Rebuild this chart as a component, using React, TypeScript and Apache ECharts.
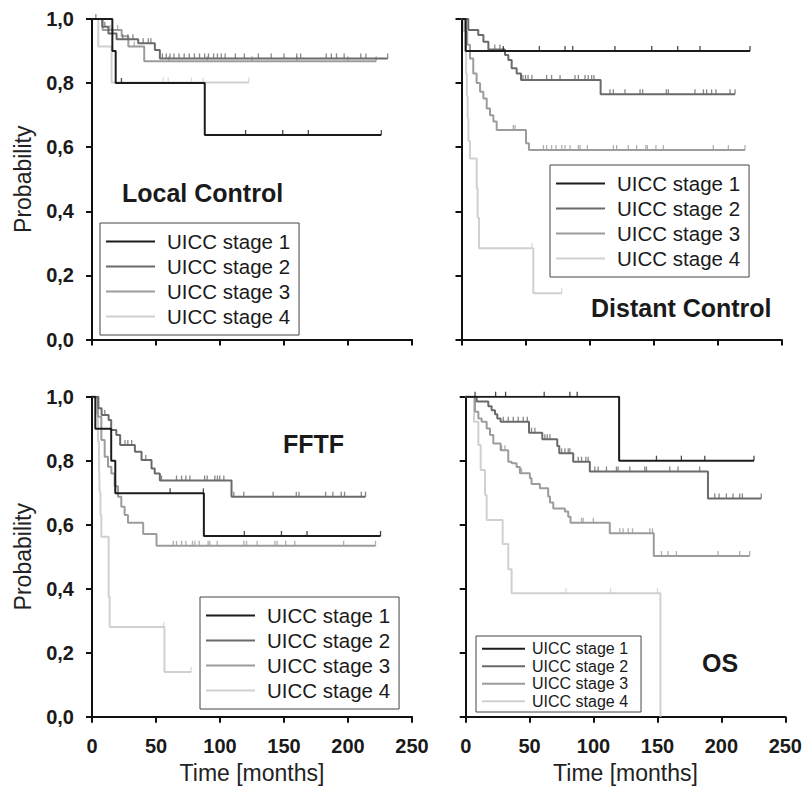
import React, { useEffect, useRef } from "react";
import * as echarts from "echarts";

// ---- categories ----
const STAGES = ["UICC stage 1", "UICC stage 2", "UICC stage 3", "UICC stage 4"];
const PANEL_TITLES = ["Local Control", "Distant Control", "FFTF", "OS"];
const X_TICKS = [0, 50, 100, 150, 200, 250];
const Y_TICKS = [0, 0.2, 0.4, 0.6, 0.8, 1.0];

// ---- Local Control ----
const lc1T = [0, 15.9, 18.5, 88.1, 226];
const lc1S = [1, 0.9, 0.8, 0.638, 0.638];
const lc1C = [23, 120, 149, 169, 226];
const lc2T = [0, 8, 12.8, 19.2, 36.1, 49.1, 53, 231];
const lc2S = [1, 0.976, 0.955, 0.937, 0.924, 0.903, 0.877, 0.877];
const lc2C = [3, 10, 16, 24, 28, 32, 40, 44, 46, 55, 58, 61, 64, 68, 72, 76, 80, 84, 88, 91, 95, 98, 101, 104, 112, 119, 130, 140, 150, 160, 163, 183, 187, 191, 197, 210, 214, 231];
const lc3T = [0, 8.3, 23.2, 28.4, 40.8, 222];
const lc3S = [1, 0.966, 0.946, 0.914, 0.868, 0.868];
const lc3C = [14, 20, 33, 60, 90, 125, 160, 200, 222];
const lc4T = [0, 4.9, 15.3, 122.5];
const lc4S = [1, 0.914, 0.802, 0.802];
const lc4C = [55.6, 59.5, 77.7, 86.8, 122.5];

// ---- Distant Control ----
const dc1T = [0, 3.3, 225.4];
const dc1S = [1, 0.9, 0.9];
const dc1C = [32.7, 60.8, 80.9, 86.9, 119.9, 148.6, 168.9, 186.3, 225.4];
const dc2T = [0, 5.3, 13.1, 17.1, 21, 34, 36.6, 39.2, 43.1, 46.5, 108.7, 213.7];
const dc2S = [1, 0.966, 0.95, 0.929, 0.905, 0.888, 0.872, 0.846, 0.83, 0.81, 0.765, 0.765];
const dc2C = [26, 30, 48, 50, 52, 55, 66.5, 70.4, 77, 88.7, 91.3, 96.5, 99, 101.7, 103.5, 116, 118.6, 127.7, 139.5, 141.5, 160, 161.6, 182.4, 189, 191.5, 195.4, 198.8, 209.8, 213.7];
const dc3T = [0, 3, 4.5, 6.6, 9.2, 11.8, 14.5, 17.1, 19.7, 22.3, 24.9, 27.5, 50.4, 52.7, 221.5];
const dc3S = [1, 0.96, 0.92, 0.877, 0.83, 0.8, 0.773, 0.752, 0.721, 0.7, 0.68, 0.654, 0.612, 0.591, 0.591];
const dc3C = [40.5, 41.8, 64, 66.5, 70.4, 73.8, 78.3, 80.9, 84.8, 91.3, 92.6, 98.3, 118.6, 121.2, 130.3, 136.8, 144, 145.2, 151.9, 157.7, 196.7, 208.5, 221.5];
const dc4T = [0, 2, 3, 3.6, 4.2, 4.8, 5.4, 6.6, 11.9, 12.6, 13.7, 56.1, 78.3];
const dc4S = [1, 0.96, 0.9, 0.83, 0.76, 0.69, 0.62, 0.565, 0.472, 0.38, 0.285, 0.144, 0.144];
const dc4C = [55, 78.3];

// ---- FFTF ----
const ff1T = [0, 2.6, 15, 18.2, 87.4, 225.4];
const ff1S = [1, 0.9, 0.8, 0.698, 0.565, 0.565];
const ff1C = [61, 87, 119, 148, 168, 225.4];
const ff2T = [0, 5, 7.5, 13, 15, 19, 22, 33.5, 38.7, 46.5, 49, 53, 109, 213.7];
const ff2S = [1, 0.964, 0.943, 0.927, 0.896, 0.88, 0.849, 0.828, 0.802, 0.776, 0.76, 0.738, 0.6875, 0.6875];
const ff2C = [10, 25.8, 28, 31, 42, 54.3, 66, 70, 73.3, 76.5, 88, 90, 96, 98, 99.8, 103, 110.8, 118.6, 141.5, 159.6, 161.7, 182.5, 188.2, 194.7, 197.3, 210.4, 213.7];
const ff3T = [0, 4.7, 7.3, 9.9, 12.5, 15.1, 17.7, 20.3, 22.9, 25.5, 28.1, 40, 50.4, 221.5];
const ff3S = [1, 0.9375, 0.865, 0.8125, 0.781, 0.76, 0.72, 0.6875, 0.656, 0.63, 0.606, 0.571, 0.534, 0.534];
const ff3C = [63.5, 66, 70, 73.3, 78.5, 80.4, 83.7, 90.7, 92, 97.8, 118.6, 120.7, 129, 142.8, 144.6, 151.3, 158.4, 196.6, 221.5];
const ff4T = [0, 3, 4.7, 5.5, 6, 6.6, 7.3, 13, 13.8, 56.6, 77.5];
const ff4S = [1, 0.95, 0.86, 0.78, 0.7, 0.63, 0.5625, 0.375, 0.28, 0.14, 0.14];
const ff4C = [56, 77.5];

// ---- OS ----
const os1T = [0, 120, 225.5];
const os1S = [1, 0.8, 0.8];
const os1C = [7.3, 23.4, 31.2, 61.4, 81.5, 87.2, 149.2, 168.7, 187, 225.5];
const os2T = [0, 8.6, 17.7, 20.3, 22.9, 24.7, 27.3, 49.5, 59.9, 71.6, 73.2, 84.1, 97.1, 189.5, 231.2];
const os2S = [1, 0.985, 0.97, 0.958, 0.945, 0.932, 0.922, 0.8875, 0.867, 0.846, 0.823, 0.797, 0.766, 0.682, 0.682];
const os2C = [29.4, 33.3, 37.2, 41.1, 45, 48.2, 51.5, 54.1, 61.9, 63.8, 65.9, 75, 77.6, 80.2, 81.5, 88, 90.6, 94, 95.8, 101, 103.6, 110.1, 117.9, 119.2, 128.4, 140.1, 141.4, 159.6, 166.1, 183, 194.8, 198.2, 203.9, 209.1, 214.3, 216.4, 231.2];
const os3T = [0, 7.3, 9.9, 12.5, 16.4, 19, 21.6, 27.3, 33.3, 35.9, 39.8, 42.4, 50.2, 51.5, 58, 64.5, 65.9, 68.5, 77.6, 80.2, 82, 112.7, 147.1, 222.1];
const os3S = [1, 0.953, 0.932, 0.922, 0.901, 0.88, 0.854, 0.833, 0.797, 0.792, 0.78, 0.761, 0.745, 0.727, 0.714, 0.688, 0.669, 0.651, 0.641, 0.625, 0.606, 0.573, 0.502, 0.502];
const os3C = [28.1, 30.7, 43.7, 90.6, 91.9, 99.8, 120.5, 123.1, 127.1, 130.5, 144, 146.1, 153.1, 158.3, 164.8, 197.4, 214.3, 222.1];
const os4T = [0, 6.5, 9.9, 11.7, 15.1, 16.4, 28.9, 33.3, 35.9, 152.3];
const os4S = [1, 0.922, 0.849, 0.771, 0.693, 0.615, 0.54, 0.461, 0.386, 0];
const os4C = [78.4, 113.3, 150];

const PANELS = [
  [[lc1T, lc1S, lc1C], [lc2T, lc2S, lc2C], [lc3T, lc3S, lc3C], [lc4T, lc4S, lc4C]],
  [[dc1T, dc1S, dc1C], [dc2T, dc2S, dc2C], [dc3T, dc3S, dc3C], [dc4T, dc4S, dc4C]],
  [[ff1T, ff1S, ff1C], [ff2T, ff2S, ff2C], [ff3T, ff3S, ff3C], [ff4T, ff4S, ff4C]],
  [[os1T, os1S, os1C], [os2T, os2S, os2C], [os3T, os3S, os3C], [os4T, os4S, os4C]],
];

// ---- styles / layout ----
const COLORS = ["#1c1c1c", "#6a6a6a", "#9c9c9c", "#d0d0d0"];
const FONT = "'Liberation Sans', Arial, Helvetica, sans-serif";
const GRIDS = [
  { left: 92, top: 19, width: 320, height: 320.5 },
  { left: 461.5, top: 19, width: 320, height: 320.5 },
  { left: 92, top: 396.7, width: 320, height: 320 },
  { left: 465.7, top: 396.7, width: 320, height: 320 },
];
const TITLE_POS = [
  [122, 193],
  [591, 308],
  [283, 444],
  [702, 663],
];

function stepValue(T: number[], S: number[], t: number) {
  let v = S[0];
  for (let i = 0; i < T.length; i++) if (T[i] <= t) v = S[i];
  return v;
}

export default function App() {
  const ref = useRef<HTMLDivElement>(null);
  useEffect(() => {
    if (!ref.current) return;
    const chart = echarts.init(ref.current, undefined, { renderer: "svg" });
    const axisLine = { show: true, onZero: false, lineStyle: { color: "#111", width: 2 } };
    const axisTick = { show: true, inside: false, length: 6, lineStyle: { color: "#111", width: 2 } };

    const xAxis = GRIDS.map((_, i) => ({
      type: "value",
      gridIndex: i,
      min: X_TICKS[0],
      max: X_TICKS[X_TICKS.length - 1],
      interval: X_TICKS[1] - X_TICKS[0],
      axisLine,
      axisTick,
      splitLine: { show: false },
      axisLabel: {
        show: i >= 2,
        fontFamily: FONT,
        fontWeight: "bold",
        fontSize: 20,
        color: "#1a1a1a",
        margin: 19,
      },
      name: i >= 2 ? "Time [months]" : "",
      nameLocation: "middle",
      nameGap: 45,
      nameTextStyle: { fontFamily: FONT, fontSize: 23, color: "#222" },
    }));
    const yAxis = GRIDS.map((_, i) => ({
      type: "value",
      gridIndex: i,
      min: Y_TICKS[0],
      max: Y_TICKS[Y_TICKS.length - 1],
      interval: Y_TICKS[1] - Y_TICKS[0],
      axisLine,
      axisTick,
      splitLine: { show: false },
      axisLabel: {
        show: i % 2 === 0,
        fontFamily: FONT,
        fontWeight: "bold",
        fontSize: 20,
        color: "#1a1a1a",
        margin: 18,
        formatter: (v: number) => v.toFixed(1).replace(".", ","),
      },
      name: i % 2 === 0 ? "Probability" : "",
      nameLocation: "middle",
      nameGap: 58,
      nameTextStyle: { fontFamily: FONT, fontSize: 23, color: "#222" },
    }));

    const series: any[] = [];
    PANELS.forEach((panel, p) => {
      panel.forEach(([T, S, C], s) => {
        series.push({
          type: "line",
          name: STAGES[s],
          xAxisIndex: p,
          yAxisIndex: p,
          step: "end",
          symbol: "none",
          showSymbol: false,
          z: 10 - s,
          data: T.map((t, k) => [t, S[k]]),
          lineStyle: { color: COLORS[s], width: 2 },
          itemStyle: { color: COLORS[s] },
        });
        series.push({
          type: "scatter",
          name: STAGES[s],
          xAxisIndex: p,
          yAxisIndex: p,
          symbol: "rect",
          symbolSize: [1.3, 5],
          symbolOffset: [0, -2.5],
          z: 10 - s,
          silent: true,
          itemStyle: { color: COLORS[s] },
          data: C.map((t) => [t, stepValue(T, S, t)]),
        });
      });
    });

    const legendBase = (left: number, top: number, big: boolean) => ({
      orient: "vertical",
      left,
      top,
      data: STAGES,
      icon: "rect",
      itemWidth: big ? 49 : 43,
      itemHeight: 2,
      itemGap: 0,
      selectedMode: false,
      backgroundColor: "#fff",
      borderColor: "#444",
      borderWidth: 1,
      borderRadius: 0,
      padding: big ? [6, 9, 6, 6] : [4, 13, 2, 6],
      textStyle: {
        fontFamily: FONT,
        fontSize: big ? 20.5 : 16,
        lineHeight: big ? 25 : 17.5,
        color: "#1a1a1a",
        padding: big ? [0, 0, 0, 7] : [0, 0, 0, 2],
      },
    });

    const option: any = {
      animation: false,
      backgroundColor: "#fff",
      grid: GRIDS.map((g) => ({ ...g, containLabel: false })),
      xAxis,
      yAxis,
      legend: [
        legendBase(100, 223, true),
        legendBase(550, 165, true),
        legendBase(200, 597, true),
        legendBase(476, 636, false),
      ],
      graphic: PANEL_TITLES.map((t, i) => ({
        type: "text",
        x: TITLE_POS[i][0],
        y: TITLE_POS[i][1],
        z: 100,
        style: {
          text: t,
          fontFamily: FONT,
          fontWeight: "bold",
          fontSize: 25,
          fill: "#1a1a1a",
          textVerticalAlign: "middle",
          verticalAlign: "middle",
        },
      })),
      series,
    };
    chart.setOption(option);
    return () => chart.dispose();
  }, []);
  return (
    <div
      ref={ref}
      style={{ position: "fixed", left: 0, top: 0, width: 805, height: 793, background: "#fff" }}
    />
  );
}
